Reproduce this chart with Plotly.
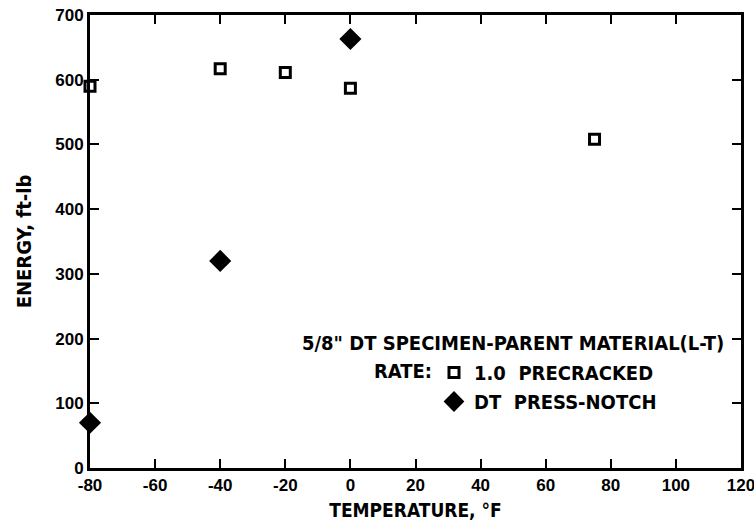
import plotly.graph_objects as go

# Temperature (°F) and fracture energy (ft-lb) for the two specimen types
precracked_temp = [-80, -40, -20, 0, 75]
precracked_energy = [590, 617, 611, 587, 508]

press_notch_temp = [-80, -40, 0]
press_notch_energy = [70, 320, 663]

x_ticks = [-80, -60, -40, -20, 0, 20, 40, 60, 80, 100, 120]
x_tick_labels = ["-80", "-60", "-40", "-20", "0", "20", "40", "60", "80", "100", "120"]
y_ticks = [0, 100, 200, 300, 400, 500, 600, 700]
y_tick_labels = ["0", "100", "200", "300", "400", "500", "600", "700"]

FONT = "DejaVu Sans Condensed, DejaVu Sans, sans-serif"
TICK_FONT = "Liberation Sans, Arial, sans-serif"

fig = go.Figure()

fig.add_trace(go.Scatter(
    x=precracked_temp, y=precracked_energy, mode="markers",
    name="1.0  PRECRACKED",
    marker=dict(symbol="square-open", size=10, color="black", line=dict(width=3, color="black")),
    cliponaxis=False,
))
fig.add_trace(go.Scatter(
    x=press_notch_temp, y=press_notch_energy, mode="markers",
    name="DT  PRESS-NOTCH",
    marker=dict(symbol="diamond", size=17, color="black", line=dict(width=0)),
    cliponaxis=False,
))

axis_common = dict(
    showline=True, linecolor="black", linewidth=3, mirror="ticks",
    ticks="inside", ticklen=9, tickwidth=2, tickcolor="black",
    showgrid=False, zeroline=False, ticklabeloverflow="allow", automargin=False,
    tickfont=dict(family=TICK_FONT, size=17, color="black", weight="bold"),
)

fig.update_xaxes(
    range=[-80, 120], tickmode="array", tickvals=x_ticks, ticktext=x_tick_labels,
    title=dict(text="TEMPERATURE, °F", font=dict(family=FONT, size=19, color="black", weight="bold"), standoff=10),
    **axis_common,
)
fig.update_yaxes(
    range=[0, 700], tickmode="array", tickvals=y_ticks, ticktext=y_tick_labels,
    title=dict(text="ENERGY, ft-lb", font=dict(family=FONT, size=20, color="black", weight="bold"), standoff=19),
    **axis_common,
)

fig.add_annotation(
    text="5/8\" DT SPECIMEN-PARENT MATERIAL(L-T)", xref="paper", yref="paper",
    x=(513 - 90) / 651, y=(468 - 343) / 453, xanchor="center", yanchor="middle",
    showarrow=False, font=dict(family=FONT, size=20, color="black", weight="bold"),
)
fig.add_annotation(
    text="RATE:", xref="paper", yref="paper",
    x=(434 - 90) / 651, y=(468 - 371) / 453, xanchor="right", yanchor="middle",
    showarrow=False, font=dict(family=FONT, size=20, color="black", weight="bold"),
)

fig.update_layout(
    width=754, height=525,
    margin=dict(l=90, r=13, t=15, b=57),
    paper_bgcolor="white", plot_bgcolor="white",
    font=dict(family=FONT, color="black"),
    showlegend=True,
    legend=dict(
        x=(434 - 90) / 651, y=(468 - 387) / 453, xanchor="left", yanchor="middle",
        bgcolor="rgba(0,0,0,0)", borderwidth=0,
        font=dict(family=FONT, size=20, color="black", weight="bold"),
        tracegroupgap=0, itemwidth=30,
    ),
)

fig.write_html("out.html")
